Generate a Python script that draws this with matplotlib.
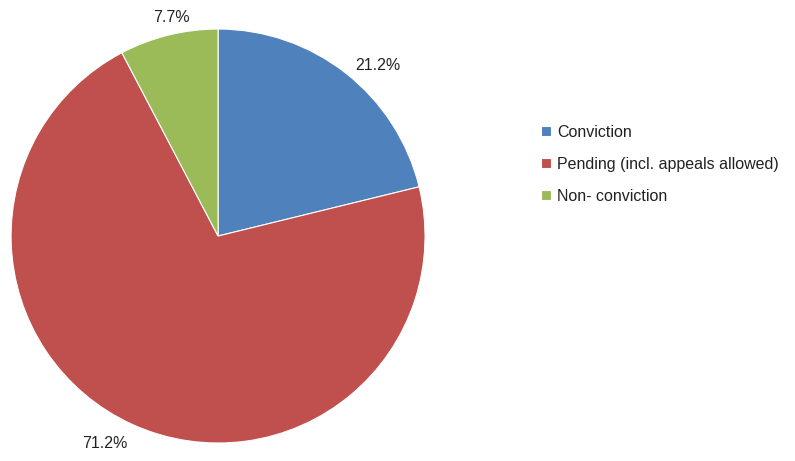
import numpy as np
import matplotlib.pyplot as plt

plt.rcParams['font.family'] = ['Liberation Sans', 'DejaVu Sans']

categories = ['Conviction', 'Pending (incl. appeals allowed)', 'Non- conviction']
shares = [21.2, 71.2, 7.7]
colors = ['#4F81BD', '#C0504D', '#9BBB59']

# label placement tweaks (radial distance, angle shift in degrees)
label_dist = [1.13, 1.14, 1.08]
label_shift = [-5.1, -4.3, -1.8]

total = sum(shares)

fig = plt.figure(figsize=(7.95, 4.61), dpi=100)
ax = fig.add_axes([0.0138, 0.039, 0.521, 0.898])

wedges, texts, autotexts = ax.pie(
    shares, colors=colors, startangle=90, counterclock=False,
    autopct=lambda p: f'{p * total / 100:.1f}%', pctdistance=1.13,
    wedgeprops=dict(edgecolor='white', linewidth=0.8),
    textprops=dict(fontsize=11.5, color='#222222'))

for w, t, d, s in zip(wedges, autotexts, label_dist, label_shift):
    ang = np.deg2rad((w.theta1 + w.theta2) / 2 + s)
    t.set_position((d * np.cos(ang), d * np.sin(ang)))
    t.set_ha('center')
    t.set_va('center')

ax.set_xlim(-1, 1)
ax.set_ylim(-1, 1)
ax.set_aspect('equal')

leg = fig.legend(wedges, categories, loc='upper left', bbox_to_anchor=(0.663, 0.76),
                 frameon=False, fontsize=11.5, handlelength=0.6, handleheight=0.6,
                 handletextpad=0.4, labelspacing=1.05)
for t in leg.get_texts():
    t.set_color('#222222')

fig.savefig('out.png', dpi=100)
